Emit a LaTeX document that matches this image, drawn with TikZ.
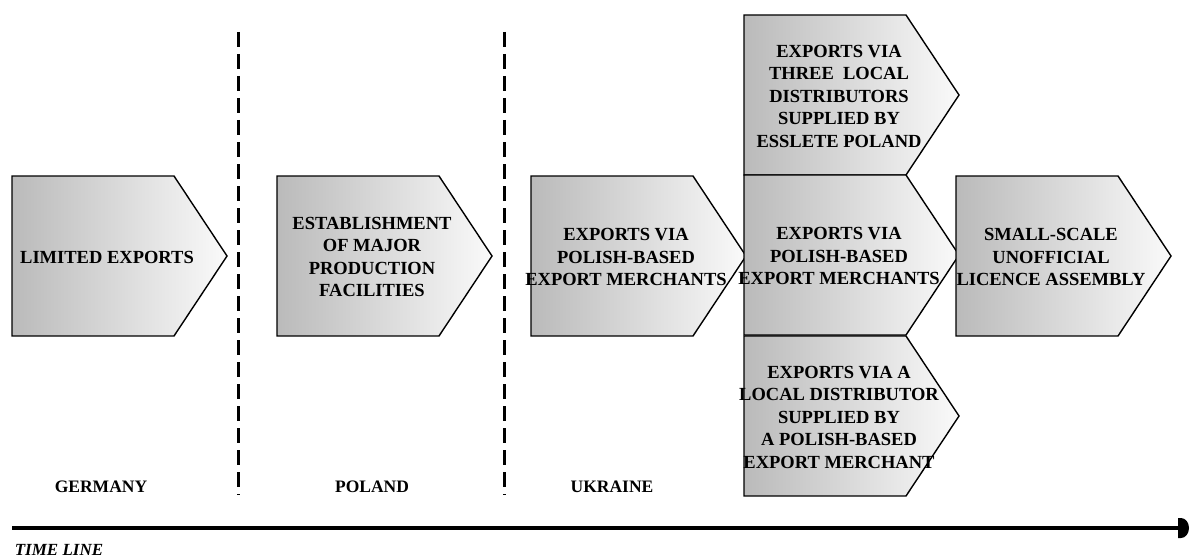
\documentclass[tikz,border=0pt]{standalone}
\usepackage{fontspec}
\setmainfont{Liberation Serif}
\begin{document}
\begin{tikzpicture}[x=1pt,y=-1pt,
  chev/.style={draw=black, line width=1.4pt, line join=miter,
    left color=black!27, right color=black!2},
  chevtext/.style={font=\fontsize{18.5}{22.5}\selectfont\bfseries, align=center, inner sep=0pt},
  divider/.style={line width=3pt, dash pattern=on 15pt off 7pt},
  country/.style={font=\fontsize{17.5}{20}\selectfont\bfseries, inner sep=0pt},
  timeline/.style={line width=4pt}
]
\useasboundingbox (0,0) rectangle (1190,559);

% #1 name, #2 left x, #3 top y, #4 text
\newcommand{\chevbox}[4]{%
  \path[chev] (#2,#3) -- ++(162,0) -- ++(53,80) -- ++(-53,80) -- ++(-162,0) -- cycle;
  \node[chevtext] (#1) at (#2+95,#3+81) {#4};
}

% stage boxes
\chevbox{limited}{12}{176}{LIMITED EXPORTS}
\chevbox{production}{277}{176}{ESTABLISHMENT\\OF MAJOR\\PRODUCTION\\FACILITIES}
\chevbox{merchants}{531}{176}{EXPORTS VIA\\POLISH-BASED\\EXPORT MERCHANTS}
\chevbox{distributors}{744}{15}{EXPORTS VIA\\THREE\ \ LOCAL\\DISTRIBUTORS\\SUPPLIED BY\\ESSLETE POLAND}
\chevbox{merchantsb}{744}{175}{EXPORTS VIA\\POLISH-BASED\\EXPORT MERCHANTS}
\chevbox{localdist}{744}{336}{EXPORTS VIA A\\LOCAL DISTRIBUTOR\\SUPPLIED BY\\A POLISH-BASED\\EXPORT MERCHANT}
\chevbox{assembly}{956}{176}{SMALL-SCALE\\UNOFFICIAL\\LICENCE ASSEMBLY}

% country dividers
\draw[divider] (238,32) -- (238,495);
\draw[divider] (504,32) -- (504,495);

% country names
\node[country] (germany) at (101,487) {GERMANY};
\node[country] (poland) at (372,487) {POLAND};
\node[country] (ukraine) at (612,487) {UKRAINE};

% time line with its rounded head
\coordinate (tlstart) at (12,528);
\coordinate (tlend) at (1179,528);
\draw[timeline] (tlstart) -- (tlend);
\fill (1178,518) -- (1181,518) arc[start angle=90, end angle=-90, x radius=8pt, y radius=10pt] -- (1178,538) -- cycle;
\node[font=\fontsize{17}{20}\selectfont\bfseries\itshape, inner sep=0pt] (tlabel) at (59,550) {TIME LINE};
\end{tikzpicture}
\end{document}
